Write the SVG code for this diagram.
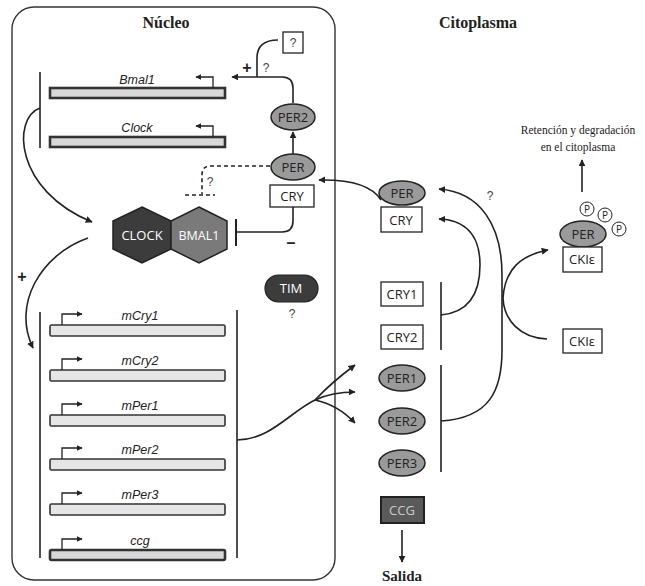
<svg xmlns="http://www.w3.org/2000/svg" width="645" height="586" viewBox="0 0 645 586">
<defs>
<marker id="ah" viewBox="0 0 10 10" refX="9" refY="5" markerWidth="7" markerHeight="7" markerUnits="userSpaceOnUse" orient="auto"><path d="M0,0 L10,5 L0,10 z" fill="#222"/></marker>
<marker id="ahs" viewBox="0 0 10 10" refX="9" refY="5" markerWidth="6" markerHeight="6" markerUnits="userSpaceOnUse" orient="auto"><path d="M0,0 L10,5 L0,10 z" fill="#222"/></marker>
</defs>
<style>
.ln{fill:none;stroke:#222;stroke-width:1.6}
.arr{fill:none;stroke:#222;stroke-width:1.6;marker-end:url(#ah)}
.pr{fill:none;stroke:#222;stroke-width:1.3;marker-end:url(#ahs)}
.dash{fill:none;stroke:#222;stroke-width:1.6;stroke-dasharray:4,3}
.gene{fill:#e6e6e6;stroke:#333;stroke-width:1.6}
.geneb{fill:#d8d8d8;stroke:#333;stroke-width:2.6}
.ell{fill:#9a9a9a;stroke:#222;stroke-width:1.5}
.box{fill:#fff;stroke:#222;stroke-width:1.3}
.t{font-family:"Open Sans","Liberation Sans",sans-serif;font-size:13px;fill:#222;text-anchor:middle}
.gl{font-family:"Liberation Sans",Arial,sans-serif;font-size:12.5px;font-style:italic;fill:#222;text-anchor:middle}
.title{font-family:"Liberation Serif","Times New Roman",serif;font-size:16px;font-weight:bold;fill:#222;text-anchor:middle}
.ser{font-family:"Liberation Serif","Times New Roman",serif;font-size:11.5px;fill:#222;text-anchor:middle}
.q{font-family:"Liberation Sans",Arial,sans-serif;font-size:12px;fill:#444;text-anchor:middle}
.sym{font-family:"Liberation Sans",Arial,sans-serif;font-size:16px;font-weight:bold;fill:#222;text-anchor:middle}
</style>

<g id="nucleus">
<rect x="12" y="7" width="323" height="573" rx="22" ry="22" fill="none" stroke="#333" stroke-width="1.4"/>
<text class="title" x="166" y="28">Núcleo</text>
</g>
<text class="title" x="478" y="28">Citoplasma</text>

<g id="gene-bmal1">
<rect class="geneb" x="50" y="88" width="175" height="10"/>
<text class="gl" x="137" y="84">Bmal1</text>
</g>
<g id="gene-clock">
<rect class="geneb" x="50" y="137" width="175" height="10"/>
<text class="gl" x="137" y="132">Clock</text>
</g>

<g id="gene-mcry1"><rect class="gene" x="50" y="325" width="175" height="11" rx="1.5"/><text class="gl" x="140" y="320">mCry1</text></g>
<g id="gene-mcry2"><rect class="gene" x="50" y="370" width="175" height="11" rx="1.5"/><text class="gl" x="140" y="365">mCry2</text></g>
<g id="gene-mper1"><rect class="gene" x="50" y="415" width="175" height="11" rx="1.5"/><text class="gl" x="140" y="410">mPer1</text></g>
<g id="gene-mper2"><rect class="gene" x="50" y="459" width="175" height="11" rx="1.5"/><text class="gl" x="140" y="454">mPer2</text></g>
<g id="gene-mper3"><rect class="gene" x="50" y="504" width="175" height="11" rx="1.5"/><text class="gl" x="140" y="499">mPer3</text></g>
<g id="gene-ccg"><rect class="geneb" x="50" y="550" width="175" height="10" rx="1.5"/><text class="gl" x="140" y="545">ccg</text></g>

<g id="clock-bmal1">
<polygon points="142,207 171,221 171,249 142,263 113,249 113,221" fill="#3c3c3c" stroke="#222" stroke-width="1.5"/>
<polygon points="199,207 227,221 227,249 199,263 171,249 171,221" fill="#7a7a7a" stroke="#222" stroke-width="1.5"/>
<text class="t" x="142" y="240" style="fill:#fff;font-size:13px">CLOCK</text>
<text class="t" x="199" y="240" style="fill:#fff;font-size:12.5px">BMAL1</text>
</g>

<g id="per2-nuc"><ellipse class="ell" cx="293" cy="117" rx="22" ry="13"/><text class="t" x="293" y="121.5">PER2</text></g>
<g id="q-box"><rect class="box" x="283" y="32" width="20" height="21"/><text class="q" x="293" y="47">?</text></g>
<g id="per-cry-nuc">
<ellipse class="ell" cx="293" cy="167" rx="22" ry="13"/><text class="t" x="293" y="171.5">PER</text>
<rect class="box" x="270" y="185" width="44" height="22"/><text class="t" x="292" y="200.5">CRY</text>
</g>
<g id="tim">
<rect x="265" y="275" width="53" height="27" rx="13.5" fill="#3c3c3c" stroke="#222" stroke-width="1.2"/>
<text class="t" x="291" y="293" style="fill:#fff">TIM</text>
<text class="q" x="292" y="318">?</text>
</g>

<g id="per-cry-cyt">
<ellipse class="ell" cx="402" cy="193" rx="23" ry="12"/><text class="t" x="402" y="197.5">PER</text>
<rect class="box" x="381" y="207" width="41" height="25"/><text class="t" x="401" y="224.5">CRY</text>
</g>
<g id="cry1"><rect class="box" x="381" y="282" width="42" height="24"/><text class="t" x="402" y="299">CRY1</text></g>
<g id="cry2"><rect class="box" x="381" y="325" width="42" height="24"/><text class="t" x="402" y="342">CRY2</text></g>
<g id="per1"><ellipse class="ell" cx="402" cy="378" rx="23" ry="13"/><text class="t" x="402" y="382.5">PER1</text></g>
<g id="per2-cyt"><ellipse class="ell" cx="402" cy="421" rx="23" ry="13"/><text class="t" x="402" y="425.5">PER2</text></g>
<g id="per3"><ellipse class="ell" cx="402" cy="463" rx="23" ry="13"/><text class="t" x="402" y="467.5">PER3</text></g>
<g id="ccg">
<rect x="381" y="497" width="43" height="26" fill="#5a5a5a" stroke="#222" stroke-width="2"/>
<text class="t" x="402" y="515" style="fill:#ccc">CCG</text>
</g>
<text class="title" x="402" y="581" style="font-size:15px">Salida</text>

<g id="per-ckie">
<circle cx="587" cy="209" r="7" fill="#fff" stroke="#222" stroke-width="1"/>
<text class="t" x="587" y="213" style="font-size:10px">P</text>
<circle cx="605" cy="215" r="7" fill="#fff" stroke="#222" stroke-width="1"/>
<text class="t" x="605" y="219" style="font-size:10px">P</text>
<circle cx="619" cy="229" r="7" fill="#fff" stroke="#222" stroke-width="1"/>
<text class="t" x="619" y="233" style="font-size:10px">P</text>
<ellipse class="ell" cx="583" cy="234" rx="23" ry="13"/><text class="t" x="583" y="238.5">PER</text>
<rect class="box" x="563" y="247" width="39" height="25"/><text class="t" x="582" y="264">CKIε</text>
</g>
<g id="ckie"><rect class="box" x="563" y="329" width="39" height="24"/><text class="t" x="582" y="346">CKIε</text></g>
<g id="retention">
<text class="ser" x="578" y="134">Retención y degradación</text>
<text class="ser" x="578" y="151">en el citoplasma</text>
</g>

<g id="connectors">
<path class="ln" d="M40,72 V148"/>
<path class="pr" d="M213,88 V77 H196"/>
<path class="pr" d="M213,137 V126 H196"/>
<path class="arr" d="M40,108 C12,118 14,190 92,222"/>
<path class="arr" d="M88,238 C40,255 12,305 33,348"/>
<text class="sym" x="22" y="282">+</text>
<path class="ln" d="M40,312 V558"/>
<path class="ln" d="M237,310 V558"/>
<path class="pr" d="M62,325 V314 H82"/>
<path class="pr" d="M62,370 V359 H82"/>
<path class="pr" d="M62,415 V404 H82"/>
<path class="pr" d="M62,459 V448 H82"/>
<path class="pr" d="M62,504 V493 H82"/>
<path class="pr" d="M62,550 V539 H82"/>
<path class="arr" d="M293,103 V88 Q293,77 282,77 H232"/>
<path class="ln" d="M278,40 Q257,40 257,58 V77"/>
<text class="sym" x="247" y="73">+</text>
<text class="q" x="266" y="72">?</text>
<path class="arr" d="M293,154 V132"/>
<path class="dash" d="M270,166 H210 Q202,166 202,175 V194"/>
<path class="dash" d="M185,195 H215"/>
<text class="q" x="210" y="186">?</text>
<path class="ln" d="M293,207 V221 Q293,232 282,232 H237"/>
<path class="ln" d="M236,219 V246" style="stroke-width:2"/>
<text class="sym" x="291" y="248">–</text>
<path class="ln" d="M237,440 C270,440 290,412 315,400"/>
<path class="arr" d="M315,400 Q332,382 355,365"/>
<path class="arr" d="M315,400 Q332,392 355,392"/>
<path class="arr" d="M315,400 Q338,405 355,423"/>
<path class="arr" d="M381,200 Q368,179 319,180"/>
<path class="ln" d="M441,282 V350"/>
<path class="ln" d="M441,365 V472"/>
<path class="arr" d="M441,421 C490,418 502,390 502,350 V275 C502,225 480,192 439,189"/>
<text class="q" x="490" y="200">?</text>
<path class="arr" d="M441,315 C472,312 480,290 480,265 C480,238 468,220 439,219"/>
<path class="arr" d="M547,339 C520,338 504,320 503,298 C505,268 522,255 548,250"/>
<path class="arr" d="M582,192 V160"/>
<path class="arr" d="M402,530 V562"/>
</g>
</svg>
